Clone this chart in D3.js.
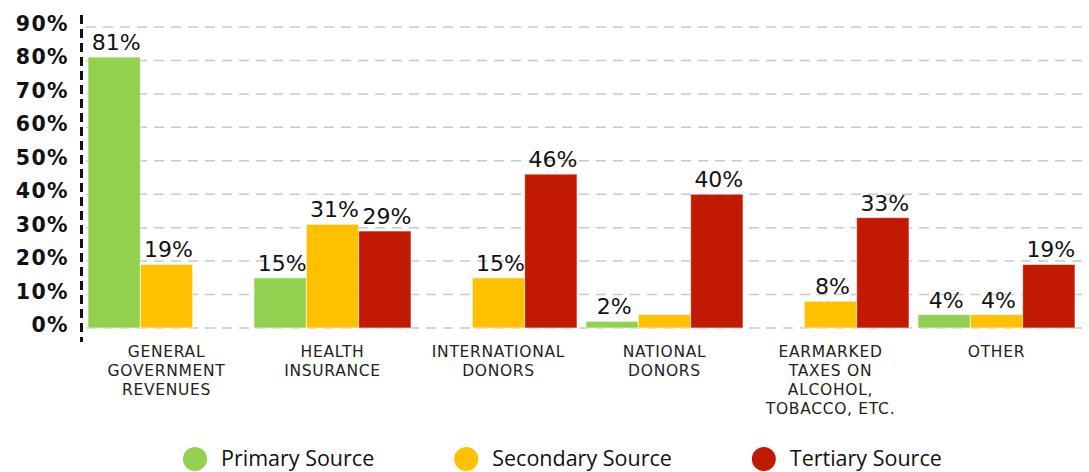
<!DOCTYPE html>
<html>
<head>
<meta charset="utf-8">
<script src="https://cdnjs.cloudflare.com/ajax/libs/d3/7.8.5/d3.min.js"></script>
<style>
  body { margin: 0; background: #fff; }
  svg { display: block; }
</style>
</head>
<body>
<div id="chart"></div>
<script>

// categories (lines of each axis label)
var categories = [
    ["GENERAL", "GOVERNMENT", "REVENUES"],
    ["HEALTH", "INSURANCE"],
    ["INTERNATIONAL", "DONORS"],
    ["NATIONAL", "DONORS"],
    ["EARMARKED", "TAXES ON", "ALCOHOL,", "TOBACCO, ETC."],
    ["OTHER"]
];

var seriesNames = ["Primary Source", "Secondary Source", "Tertiary Source"];
var seriesColors = ["#92d050", "#ffc000", "#c11a00"];

var primary   = [81, 15, 0, 2, 0, 4];
var secondary = [19, 31, 15, 4, 8, 4];
var tertiary  = [0, 29, 46, 40, 33, 19];

// the 4% secondary bar of national donors carries no label in the original
var hiddenLabels = [[3, 1]];

var yTicks = [0, 10, 20, 30, 40, 50, 60, 70, 80, 90];

var values = [primary, secondary, tertiary];
var catKeys = categories.map(function(d){ return d.join(" ") });

var width = 1089, height = 472;

var svg = d3.select("#chart")
    .append("svg")
    .attr("width", width)
    .attr("height", height);

var x0 = d3.scaleBand()
    .domain(catKeys)
    .range([88, 1075])
    .paddingInner(0.054)
    .paddingOuter(0);

var x1 = d3.scaleBand()
    .domain([0, 1, 2])
    .range([0, x0.bandwidth()])
    .padding(0);

var y = d3.scaleLinear()
    .domain([0, 90])
    .range([328, 27]);

/* grid */
svg.append("g")
    .selectAll("line")
    .data(yTicks)
    .enter()
    .append("line")
    .attr("x1", 86)
    .attr("x2", 1086)
    .attr("y1", function(d){ return y(d) })
    .attr("y2", function(d){ return y(d) })
    .attr("stroke", "#c9c9c9")
    .attr("stroke-width", 1.5)
    .attr("stroke-dasharray", "10,7");

/* y labels */
svg.append("g")
    .selectAll("text")
    .data(yTicks)
    .enter()
    .append("text")
    .attr("x", 69)
    .attr("y", function(d){ return y(d) + 4 })
    .attr("text-anchor", "end")
    .attr("font-family", "DejaVu Sans")
    .attr("font-weight", "bold")
    .attr("font-size", "20.5px")
    .attr("letter-spacing", "1.4px")
    .attr("fill", "#111")
    .text(function(d){ return d + "%" });

/* bars */
var flat = [];
catKeys.forEach(function(c, i){
    values.forEach(function(s, j){
        flat.push({ cat: c, ci: i, si: j, value: s[i] });
    });
});
var shown = flat.filter(function(d){ return d.value > 0 });

svg.append("g")
    .selectAll("rect")
    .data(shown)
    .enter()
    .append("rect")
    .attr("x", function(d){ return x0(d.cat) + x1(d.si) })
    .attr("width", x1.bandwidth())
    .attr("y", function(d){ return y(d.value) })
    .attr("height", function(d){ return y(0) - y(d.value) })
    .attr("fill", function(d){ return seriesColors[d.si] })
    .attr("stroke", "#fff")
    .attr("stroke-opacity", 0.6)
    .attr("stroke-width", 1);

/* value labels */
svg.append("g")
    .selectAll("text")
    .data(shown.filter(function(d){
        return !hiddenLabels.some(function(h){ return h[0] === d.ci && h[1] === d.si });
    }))
    .enter()
    .append("text")
    .attr("x", function(d){ return x0(d.cat) + x1(d.si) + x1.bandwidth() / 2 + 2 })
    .attr("y", function(d){ return y(d.value) - 7 })
    .attr("text-anchor", "middle")
    .attr("font-family", "DejaVu Sans")
    .attr("font-size", "22px")
    .attr("fill", "#111")
    .text(function(d){ return d.value + "%" });

/* y axis - dashed */
svg.append("line")
    .attr("x1", 81.5).attr("x2", 81.5)
    .attr("y1", 15).attr("y2", 342)
    .attr("stroke", "#111")
    .attr("stroke-width", 3)
    .attr("stroke-dasharray", "9,5");

/* category labels */
var catLabels = svg.append("g")
    .selectAll("text")
    .data(categories)
    .enter()
    .append("text")
    .attr("text-anchor", "middle")
    .attr("font-family", "DejaVu Sans")
    .attr("font-size", "15.5px")
    .attr("letter-spacing", "0.7px")
    .attr("fill", "#222")
    .attr("transform", function(d, i){ return "translate(" + (x0(catKeys[i]) + x0.bandwidth() / 2) + ",357)" });

catLabels.selectAll("tspan")
    .data(function(d){ return d })
    .enter()
    .append("tspan")
    .attr("x", 0)
    .attr("y", function(d, i){ return i * 19 })
    .text(function(d){ return d });

/* legend */
var legend = svg.append("g").attr("transform", "translate(0,459)");
var lx = 195;
seriesNames.forEach(function(name, i){
    legend.append("circle")
        .attr("cx", lx)
        .attr("cy", 0)
        .attr("r", 12)
        .attr("fill", seriesColors[i]);
    var t = legend.append("text")
        .attr("x", lx + 26)
        .attr("y", 7)
        .attr("font-family", "Open Sans")
        .attr("font-size", "21.5px")
        .attr("fill", "#111")
        .text(name);
    lx = lx + 26 + t.node().getComputedTextLength() + 92;
});

</script>
</body>
</html>
